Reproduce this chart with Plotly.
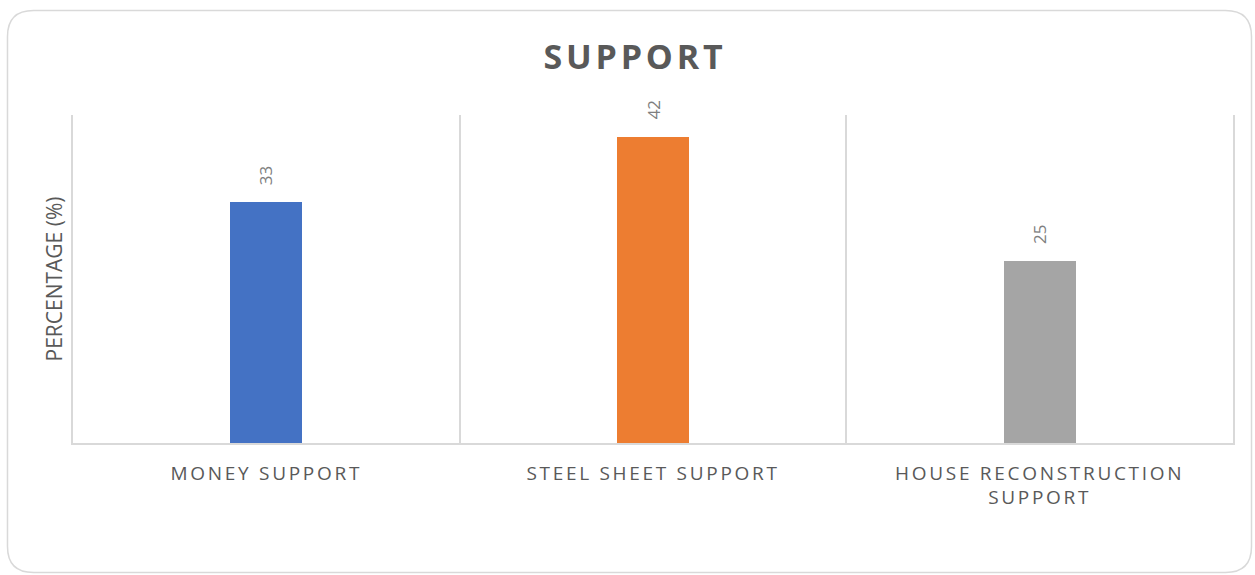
import plotly.graph_objects as go

# Survey results: share of respondents per support type
categories = ["MONEY SUPPORT", "STEEL SHEET SUPPORT", "HOUSE RECONSTRUCTION<br>SUPPORT"]
percentages = [33, 42, 25]
bar_colors = ["#4472C4", "#ED7D31", "#A5A5A5"]

TEXT_GREY = "#595959"
LABEL_GREY = "#7F7F7F"
LINE_GREY = "#D9D9D9"
FONT = "Open Sans, Noto Sans, sans-serif"

W, H = 1255, 575
M_L, M_R, M_T, M_B = 73, 22, 115, 132
plot_w = W - M_L - M_R
plot_h = H - M_T - M_B

fig = go.Figure()
fig.add_trace(go.Bar(
    x=categories,
    y=percentages,
    marker=dict(color=bar_colors, line=dict(width=0)),
    width=0.186,
    hoverinfo="x+y",
))

# value labels, rotated to read bottom-to-top above each bar
for cat, val in zip(categories, percentages):
    fig.add_annotation(
        x=cat, y=val, xref="x", yref="y",
        text=str(val), textangle=-90, showarrow=False,
        yanchor="bottom", yshift=15,
        font=dict(family=FONT, size=17, color=LABEL_GREY),
    )


# rounded chart frame, expressed in paper units
def px_to_paper(px, py):
    return (px - M_L) / plot_w, (H - M_B - py) / plot_h


def rounded_rect(x0, y0, x1, y1, r):
    def P(x, y):
        ax, ay = px_to_paper(x, y)
        return f"{ax:.5f},{ay:.5f}"
    return " ".join([
        f"M {P(x0 + r, y0)}",
        f"L {P(x1 - r, y0)}",
        f"Q {P(x1, y0)} {P(x1, y0 + r)}",
        f"L {P(x1, y1 - r)}",
        f"Q {P(x1, y1)} {P(x1 - r, y1)}",
        f"L {P(x0 + r, y1)}",
        f"Q {P(x0, y1)} {P(x0, y1 - r)}",
        f"L {P(x0, y0 + r)}",
        f"Q {P(x0, y0)} {P(x0 + r, y0)} Z",
    ])


fig.add_shape(
    type="path", xref="paper", yref="paper",
    path=rounded_rect(7.5, 10.5, 1251.5, 572.5, 26),
    line=dict(color=LINE_GREY, width=1.5),
    layer="below",
)

fig.update_layout(
    width=W, height=H,
    margin=dict(l=M_L, r=M_R, t=M_T, b=M_B, pad=0),
    paper_bgcolor="white",
    plot_bgcolor="white",
    showlegend=False,
    bargap=0,
    title=dict(
        text="<b>SUPPORT</b>",
        x=635 / W, xref="container", xanchor="center",
        y=1 - 57 / H, yref="container", yanchor="middle",
        font=dict(family=FONT, size=34, color=TEXT_GREY),
    ),
    xaxis=dict(
        type="category",
        tickson="boundaries",
        showgrid=True, gridcolor=LINE_GREY, gridwidth=1.5,
        showline=True, linecolor=LINE_GREY, linewidth=1.5,
        ticks="", ticklen=0,
        ticklabelstandoff=12,
        tickfont=dict(family=FONT, size=19, color=TEXT_GREY),
        range=[-0.5, 2.5],
        zeroline=False,
    ),
    yaxis=dict(
        range=[0, 45],
        showgrid=False,
        showticklabels=False,
        ticks="",
        zeroline=False,
        showline=True, linecolor=LINE_GREY, linewidth=1.5, mirror=True,
        title=dict(
            text="PERCENTAGE (%)", standoff=3,
            font=dict(family=FONT, size=21, color=TEXT_GREY),
        ),
    ),
)

# tracked lettering for the title and category labels
post = (
    "var s=document.createElement('style');"
    "s.textContent='.gtitle{letter-spacing:3.8px}.xtick text{letter-spacing:2.7px}';"
    "document.head.appendChild(s);"
)

fig.write_html("out.html", post_script=post)
